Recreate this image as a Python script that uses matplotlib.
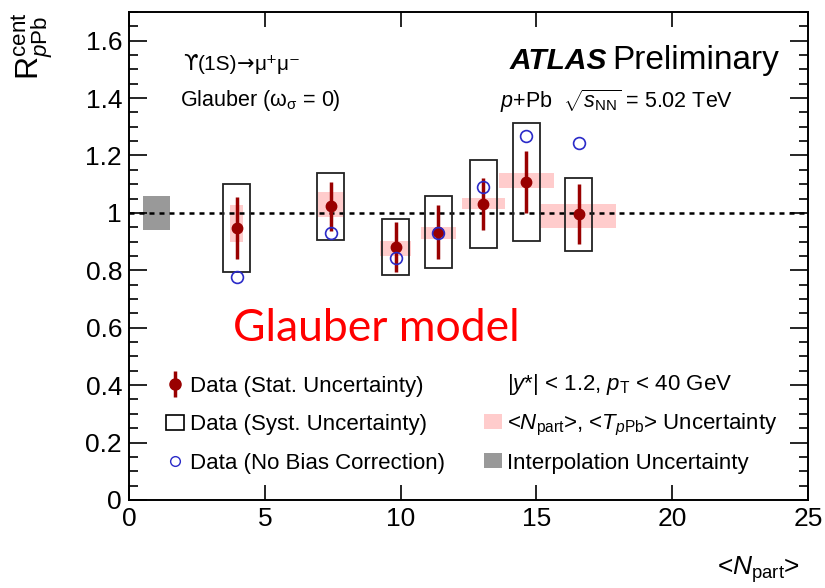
import matplotlib
matplotlib.use('Agg')
import numpy as np
import matplotlib.pyplot as plt
from matplotlib.lines import Line2D
from matplotlib.patches import Patch, Rectangle
from matplotlib.legend_handler import HandlerTuple
from matplotlib.ticker import MultipleLocator

plt.rcParams['font.family'] = ['Liberation Sans', 'DejaVu Sans']
plt.rcParams['mathtext.fontset'] = 'custom'
plt.rcParams['mathtext.rm'] = 'Liberation Sans'
plt.rcParams['mathtext.it'] = 'Liberation Sans:italic'
plt.rcParams['mathtext.bf'] = 'Liberation Sans:bold'

# ---- data ----
npart = np.array([3.96, 7.42, 9.82, 11.39, 13.05, 14.62, 16.56])
rcp = np.array([0.947, 1.023, 0.881, 0.933, 1.030, 1.107, 0.995])
stat_err = np.array([0.107, 0.086, 0.087, 0.095, 0.090, 0.109, 0.104])
syst_err = np.array([0.152, 0.117, 0.098, 0.125, 0.154, 0.206, 0.126])
syst_xhalf = 0.5
band_lo = np.array([0.898, 0.985, 0.850, 0.910, 1.012, 1.087, 0.948])
band_hi = np.array([1.026, 1.074, 0.902, 0.951, 1.053, 1.140, 1.030])
band_xhalf = np.array([0.245, 0.48, 0.58, 0.645, 0.78, 1.01, 1.385])
nobias = np.array([0.776, 0.929, 0.844, 0.929, 1.089, 1.267, 1.244])
interp_x = [1.0]
interp_center = [1.0]
interp_half = [0.06]

dark_red = '#990000'
pink = '#ffcccc'
grey = '#999999'
blue = '#2a2ac8'

fig = plt.figure(figsize=(8.25, 5.88), dpi=100)
ax = fig.add_axes([0.1564, 0.1497, 0.823, 0.830])

# interpolation uncertainty
ax.bar(interp_x, 2 * np.array(interp_half), bottom=np.array(interp_center) - np.array(interp_half),
       width=1.0, color=grey, zorder=1, linewidth=0)
# Npart/TpPb uncertainty bands
ax.bar(npart, band_hi - band_lo, bottom=band_lo, width=2 * band_xhalf,
       color=pink, zorder=1, linewidth=0)
# dotted unity line
ax.axhline(1.0, color='black', ls=(0, (2, 2)), lw=1.8, zorder=2)
# systematic boxes
ax.bar(npart, 2 * syst_err, bottom=rcp - syst_err, width=2 * syst_xhalf,
       fill=False, edgecolor='#222222', linewidth=1.3, zorder=3)
# stat errors
ax.errorbar(npart, rcp, yerr=stat_err, fmt='o', color=dark_red, ms=7.5,
            elinewidth=2.5, capsize=0, zorder=4)
# no-bias-correction
ax.plot(npart, nobias, 'o', mfc='none', mec=blue, ms=8.5, mew=1.2, zorder=5)

ax.set_xlim(0, 25)
ax.set_ylim(0, 1.7)
ax.xaxis.set_major_locator(MultipleLocator(5))
ax.yaxis.set_minor_locator(MultipleLocator(0.05))
ax.tick_params(which='both', direction='in', top=True, right=True, labelsize=19, width=1.2)
ax.tick_params(axis='x', which='major', length=11, pad=5)
ax.tick_params(axis='y', which='major', length=13, pad=5)
ax.tick_params(which='minor', length=6.5)
ax.set_yticks(np.arange(0, 1.61, 0.2))
ax.set_yticklabels(['0', '0.2', '0.4', '0.6', '0.8', '1', '1.2', '1.4', '1.6'])
for s in ax.spines.values():
    s.set_linewidth(1.4)

# axis titles
fig.text(33 / 825, 1 - 12 / 588, r'R$_{\mathit{p}\mathrm{Pb}}^{\mathrm{cent}}$', rotation=90,
         ha='center', va='top', fontsize=23)
fig.text(800 / 825, 1 - 570 / 588, r'<$\mathit{N}_{\mathrm{part}}$>', ha='right', va='center', fontsize=19)

# annotations
t1 = ax.text(0.079, 0.872, 'ϒ', transform=ax.transAxes, fontsize=15, va='bottom', ha='left',
             family='DejaVu Sans')
t2 = ax.annotate('(1S)', xy=(1, 0), xycoords=t1, xytext=(0, 0.5), textcoords='offset points',
                 fontsize=15, va='bottom', ha='left')
t3 = ax.annotate('→', xy=(1, 0), xycoords=t2, xytext=(0, -0.5), textcoords='offset points',
                 fontsize=15, va='bottom', ha='left', family='DejaVu Sans')
ax.annotate('μ⁺μ⁻', xy=(1, 0), xycoords=t3, xytext=(0, 0.5), textcoords='offset points',
            fontsize=15, va='bottom', ha='left')
ax.text(0.075, 0.818, r'Glauber ($\mathrm{\omega}_{\mathrm{\sigma}}$ = 0)', transform=ax.transAxes,
        fontsize=15.5, va='center', ha='left')
ax.text(0.56, 0.9, 'ATLAS', transform=ax.transAxes, fontsize=21.5, fontweight='bold',
        fontstyle='italic', va='center', ha='left')
ax.text(0.711, 0.9, 'Preliminary', transform=ax.transAxes, fontsize=24, va='center', ha='left')
ax.text(0.546, 0.818, r'$\mathit{p}$+Pb  $\sqrt{s_{\mathrm{NN}}}$ = 5.02 TeV', transform=ax.transAxes,
        fontsize=15.5, va='center', ha='left')
ax.text(0.153, 0.352, 'Glauber model', transform=ax.transAxes, fontsize=32, color='red',
        family='Lato', va='center', ha='left')

# legends
h_stat = (Line2D([], [], color=dark_red, marker='|', ms=19, mew=2.5, ls=''),
          Line2D([], [], color=dark_red, marker='o', ms=8, ls=''))
h_syst = Rectangle((0, 0), 1, 1, facecolor='white', edgecolor='black', lw=1.2)
h_nob = Line2D([], [], marker='o', mfc='none', mec=blue, ms=7, mew=1.0, ls='')
leg1 = ax.legend([h_stat, h_syst, h_nob],
                 ['Data (Stat. Uncertainty)', 'Data (Syst. Uncertainty)', 'Data (No Bias Correction)'],
                 loc='upper left', bbox_to_anchor=(0.055, 0.254), frameon=False, fontsize=16,
                 handlelength=0.8, handleheight=0.65, handletextpad=0.25, labelspacing=0.78,
                 borderpad=0, borderaxespad=0,
                 handler_map={tuple: HandlerTuple(ndivide=1, pad=0)})
ax.add_artist(leg1)
h_none = Line2D([], [], ls='', marker='')
h_band = Patch(facecolor=pink, edgecolor='none')
h_int = Patch(facecolor=grey, edgecolor='none')
leg2 = ax.legend([h_none, h_band, h_int],
                 [r'|$\mathit{y}$*| < 1.2, $\mathit{p}_{\mathrm{T}}$ < 40 GeV',
                  r'<$\mathit{N}_{\mathrm{part}}$>, <$\mathit{T}_{\mathit{p}\mathrm{Pb}}$> Uncertainty',
                  'Interpolation Uncertainty'],
                 loc='upper left', bbox_to_anchor=(0.523, 0.262), frameon=False, fontsize=16,
                 handlelength=0.8, handleheight=0.65, handletextpad=0.25, labelspacing=0.66,
                 borderpad=0, borderaxespad=0)

fig.savefig('out.png', dpi=100)
